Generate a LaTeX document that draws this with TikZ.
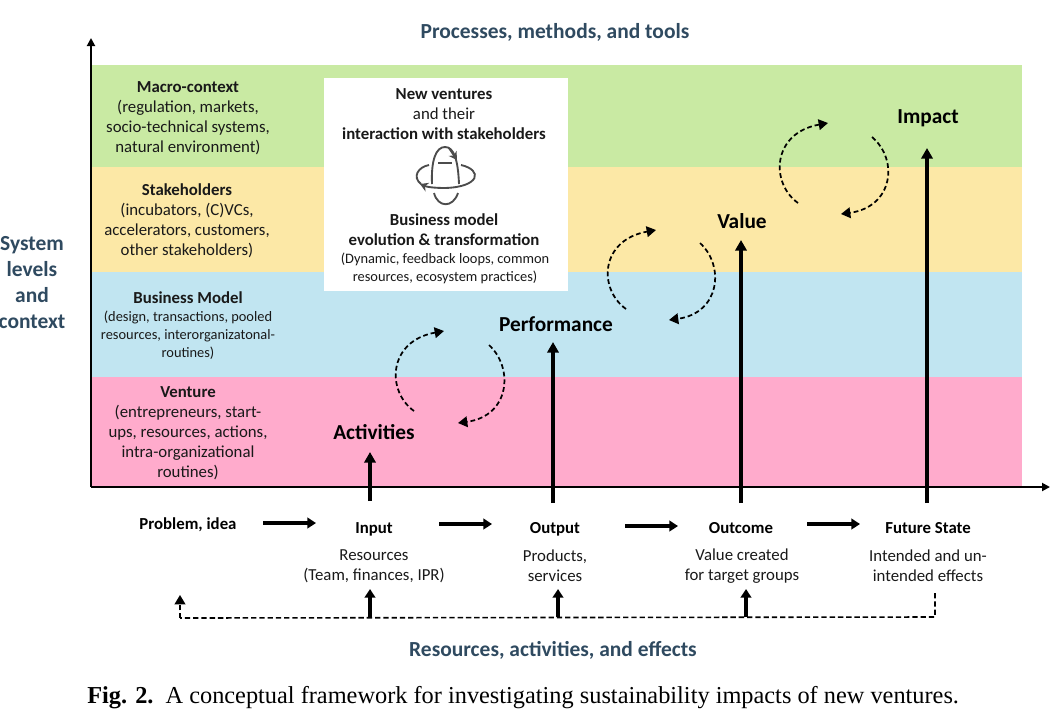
\documentclass[tikz,border=0pt]{standalone}
\usepackage{fontspec}
\setmainfont{Carlito}
\newfontfamily\capfont{Liberation Serif}
\usetikzlibrary{arrows,arrows.meta,positioning}
\definecolor{macrogreen}{HTML}{C9EAA3}
\definecolor{stakeyellow}{HTML}{FCE8A6}
\definecolor{modelblue}{HTML}{C1E5F1}
\definecolor{venturepink}{HTML}{FFABCC}
\definecolor{headblue}{HTML}{2F4A60}
\tikzset{
  level text/.style={align=center,font=\fontsize{12.6}{15}\selectfont,text=black!90},
  small text/.style={align=center,font=\fontsize{10.8}{13.5}\selectfont,text=black!90},
  stage/.style={font=\fontsize{12.6}{15}\selectfont\bfseries},
  stage text/.style={align=center,font=\fontsize{12.6}{15}\selectfont,text=black!90},
  head text/.style={align=center,font=\fontsize{16.1}{19.5}\selectfont\bfseries,text=headblue},
  result/.style={font=\fontsize{16}{18}\selectfont\bfseries},
  flow/.style={-{Triangle[length=6.5pt,width=8pt]},line width=2.5pt},
  rise/.style={-{Triangle[length=8pt,width=8.5pt]},line width=3pt},
  loop/.style={-{Triangle[length=7pt,width=8pt]},dash pattern=on 3.6pt off 2.2pt,line width=1.3pt},
  feed/.style={dash pattern=on 4pt off 2.2pt,line width=1.2pt},
  icon/.style={line width=1.4pt,black!70}
}
\begin{document}
\begin{tikzpicture}[x=0.75pt,y=-0.75pt]
    \useasboundingbox (0,0) rectangle (1052,722);

    % levels
    \fill[macrogreen] (91,65) rectangle (1022,167);
    \fill[stakeyellow] (91,167) rectangle (1022,272);
    \fill[modelblue] (91,272) rectangle (1022,377);
    \fill[venturepink] (91,377) rectangle (1022,487);
    \fill[white] (324,78) rectangle (568,291);

    % axes
    \coordinate (origin) at (91,487);
    \coordinate (top) at (91,38);
    \coordinate (right) at (1050,487);
    \draw[-{Triangle[length=6pt,width=6pt]},line width=1.4pt] (origin) -- (top);
    \draw[-{Triangle[length=6pt,width=6pt]},line width=1.4pt] (origin) -- (right);

    \node[head text] (tools) at (555,32) {Processes, methods, and tools};
    \node[head text] (effects) at (553,650) {Resources, activities, and effects};
    \node[head text] (system) at (32,283) {System\\levels\\and\\context};

    \node[level text] (macro) at (188,118) {\textbf{Macro-context}\\(regulation, markets,\\socio-technical systems,\\natural environment)};
    \node[level text] (stake) at (187,221) {\textbf{Stakeholders}\\(incubators, (C)VCs,\\accelerators, customers,\\other stakeholders)};
    \node[small text] (model) at (188,326) {\textbf{\fontsize{12.6}{13.5}\selectfont Business Model}\\(design, transactions, pooled\\resources, interorganizatonal-\\routines)};
    \node[level text] (venture) at (188,433) {\textbf{Venture}\\(entrepreneurs, start-\\ups, resources, actions,\\intra-organizational\\routines)};

    \node[level text] (ventures) at (444,114) {\textbf{New ventures}\\and their\\\textbf{interaction with stakeholders}};
    \node[level text] (evolution) at (444,230) {\textbf{Business model}\\\textbf{evolution \& transformation}};
    \node[small text] (practices) at (445,268) {(Dynamic, feedback loops, common\\resources, ecosystem practices)};

    % icon
    \draw[icon] (432,184) .. controls (431,160) and (436,147) .. (445,147) .. controls (454,147) and (458,160) .. (459,184);
    \draw[icon] (434,193) .. controls (438,208) and (453,208) .. (458,193);
    \draw[icon] (438,163) -- (452,163);
    \draw[icon,-{Stealth[length=6pt,width=7pt]}] (461,165) .. controls (483,170) and (480,187) .. (445,188) .. controls (435,188) and (427,187) .. (420,184);
    \draw[icon] (429,165) .. controls (418,167) and (412,177) .. (421,184);
    \draw[icon,-{Stealth[length=6pt,width=7pt]}] (449,148) -- (457,160);

    % results
    \node[result] (activities) at (374,432) {Activities};
    \node[result] (performance) at (556,324) {Performance};
    \node[result] (value) at (742,221) {Value};
    \node[result] (impact) at (928,118) {Impact};

    % stages
    \node[stage] (problem) at (188,525) {Problem, idea};
    \node[stage] (input) at (374,529) {Input};
    \node[stage] (output) at (555,529) {Output};
    \node[stage] (outcome) at (741,528) {Outcome};
    \node[stage] (future) at (928,528) {Future State};
    \node[stage text] (resources) at (374,566) {Resources\\(Team, finances, IPR)};
    \node[stage text] (products) at (555,566) {Products,\\services};
    \node[stage text] (created) at (742,566) {Value created\\for target groups};
    \node[stage text] (intended) at (928,566) {Intended and un-\\intended effects};

    \coordinate (p1) at (263,523);
    \coordinate (p2) at (316,523);
    \coordinate (i1) at (439,524);
    \coordinate (i2) at (492,524);
    \coordinate (o1) at (625,526);
    \coordinate (o2) at (678,526);
    \coordinate (u1) at (807,524);
    \coordinate (u2) at (860,524);
    \draw[flow] (p1) -- (p2);
    \draw[flow] (i1) -- (i2);
    \draw[flow] (o1) -- (o2);
    \draw[flow] (u1) -- (u2);

    \coordinate (r1) at (370,501);
    \coordinate (r2) at (553,503);
    \coordinate (r3) at (741,503);
    \coordinate (r4) at (927,503);
    \draw[rise] (r1) -- (370,452);
    \draw[rise] (r2) -- (553,342);
    \draw[rise] (r3) -- (741,240);
    \draw[rise] (r4) -- (927,148);

    % loops
    \draw[loop] (414,411) .. controls (386,391) and (388,341) .. (444,331);
    \draw[loop] (489,345) .. controls (514,368) and (510,416) .. (458,423);
    \draw[loop] (626,309) .. controls (598,289) and (600,240) .. (656,230);
    \draw[loop] (700,243) .. controls (725,266) and (720,313) .. (669,320);
    \draw[loop] (798,203) .. controls (770,183) and (772,133) .. (828,123);
    \draw[loop] (872,137) .. controls (899,160) and (893,207) .. (841,214);

    % feedback
    \coordinate (f0) at (180,618);
    \coordinate (f1) at (370,617);
    \coordinate (f2) at (558,617);
    \coordinate (f3) at (746,617);
    \coordinate (f4) at (935,617);
    \coordinate (f5) at (935,593);
    \draw[feed] (f5) -- (f4) -- (f0);
    \draw[loop] (f0) -- (180,595);
    \draw[flow] (f1) -- (370,589);
    \draw[flow] (f2) -- (558,589);
    \draw[flow] (f3) -- (746,589);

    \node[font=\capfont\fontsize{18.25}{20}\selectfont,anchor=west,inner sep=0pt] (caption) at (87,698) {\textbf{Fig. 2.}\ \ A conceptual framework for investigating sustainability impacts of new ventures.};
\end{tikzpicture}
\end{document}
